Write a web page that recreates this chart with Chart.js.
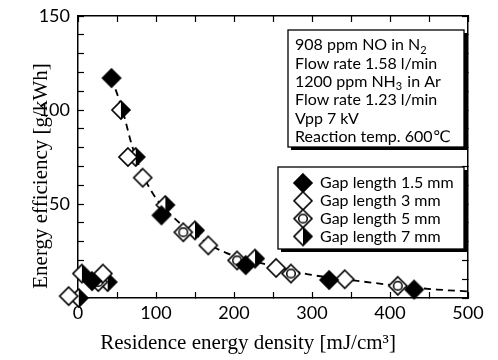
<!DOCTYPE html>
<html lang="en">
<head>
    <meta charset="UTF-8">
    <title>Energy efficiency vs residence energy density</title>
    <style>
        body { margin: 0; background: #fff; }
        canvas { display: block; }
    </style>
</head>
<body>
    <canvas id="myChart" width="498" height="360"></canvas>

    <script src="https://cdn.jsdelivr.net/npm/chart.js"></script>
    <script>
    // values
    const seriesNames = ['Gap length 1.5 mm', 'Gap length 3 mm', 'Gap length 5 mm', 'Gap length 7 mm'];

    const gap15X = [18, 43, 107, 215, 322, 431];
    const gap15Y = [9, 117, 44, 17.5, 9.6, 4.5];
    // last point sits just left of the axis in the figure
    const gap3X = [32, 64, 83, 167, 254, 342, -12];
    const gap3Y = [13, 75, 64, 28, 16, 10, 1];
    const gap5X = [26, 135, 204, 273, 410];
    const gap5Y = [8.5, 35, 20, 13, 6.5];
    const gap7X = [1, 5, 38, 55, 74, 112, 150, 227];
    const gap7Y = [0, 13, 8.5, 100, 75, 49.5, 36, 21];

    // dashed guide curve
    const fitX = [43, 57, 70, 85, 100, 115, 130, 150, 170, 190, 210, 230, 260, 290, 320, 350, 380, 420, 460, 500];
    const fitY = [117, 100, 80, 64, 53, 46, 40, 34, 28, 24, 21, 19, 16, 13, 11, 9.5, 8, 6, 4.5, 3.5];

    const xTitle = 'Residence energy density [mJ/cm\u00b3]';
    const yTitle = 'Energy efficiency [g/kWh]';

    const infoLines = [
        ['908 ppm NO in N', '2'],
        ['Flow rate 1.58 l/min', ''],
        ['1200 ppm NH', '3', ' in Ar'],
        ['Flow rate 1.23 l/min', ''],
        ['Vpp 7 kV', ''],
        ['Reaction temp. 600\u2103', '']
    ];

    const toPts = (xs, ys) => xs.map((x, i) => ({x: x, y: ys[i]}));

    function makeMarker(kind) {
        const c = document.createElement('canvas');
        c.width = 22; c.height = 22;
        const g = c.getContext('2d');
        const m = 11, r = 9;
        const diamond = () => {
            g.beginPath();
            g.moveTo(m, m - r); g.lineTo(m + r, m); g.lineTo(m, m + r); g.lineTo(m - r, m);
            g.closePath();
        };
        diamond();
        g.fillStyle = kind === 'filled' ? '#000' : '#fff';
        g.fill();
        if (kind === 'half') {
            g.beginPath();
            g.moveTo(m, m - r); g.lineTo(m + r, m); g.lineTo(m, m + r);
            g.closePath();
            g.fillStyle = '#000';
            g.fill();
        }
        if (kind === 'circle') {
            g.beginPath();
            g.arc(m, m, 4.3, 0, Math.PI * 2);
            g.lineWidth = 1.5;
            g.stroke();
        }
        g.lineWidth = 1.6;
        g.strokeStyle = '#000';
        diamond();
        g.stroke();
        return c;
    }

    const markers = [makeMarker('filled'), makeMarker('open'), makeMarker('circle'), makeMarker('half')];

    const sansFam = 'Lato, "DejaVu Sans", sans-serif';
    const tickFont = {family: sansFam, size: 18};
    const titleCss = '21px "Liberation Serif", serif';

    const boxesPlugin = {
        id: 'boxes',
        afterDraw(chart) {
            const ctx = chart.ctx;
            const a = chart.chartArea;
            ctx.save();
            ctx.fillStyle = '#000';

            // axis titles
            ctx.font = titleCss;
            ctx.textAlign = 'center';
            ctx.textBaseline = 'middle';
            ctx.fillText(xTitle, a.left + 170, a.bottom + 45);
            ctx.save();
            ctx.translate(a.left - 37, a.bottom - 122);
            ctx.rotate(-Math.PI / 2);
            ctx.fillText(yTitle, 0, 0);
            ctx.restore();

            const box = (x1, y1, x2, y2) => {
                ctx.fillStyle = '#000';
                ctx.fillRect(x1 + 3, y1 + 3, x2 - x1, y2 - y1);
                ctx.fillStyle = '#fff';
                ctx.fillRect(x1, y1, x2 - x1, y2 - y1);
                ctx.lineWidth = 1.3;
                ctx.strokeStyle = '#000';
                ctx.strokeRect(x1, y1, x2 - x1, y2 - y1);
            };

            // info box
            const ix = a.right - 180, iy = a.top + 14;
            box(ix, iy, a.right - 4, iy + 117);
            ctx.fillStyle = '#000';
            ctx.textAlign = 'left';
            infoLines.forEach((parts, i) => {
                const y = iy + 15 + i * 18.4;
                let x = ix + 7;
                parts.forEach((p, j) => {
                    if (!p) return;
                    const sub = j === 1;
                    ctx.font = (sub ? 11 : 16) + 'px ' + sansFam;
                    ctx.fillText(p, x, sub ? y + 5 : y);
                    x += ctx.measureText(p).width + (sub ? 1 : 0);
                });
            });

            // legend box
            const lx = a.right - 190, ly = a.top + 151;
            box(lx, ly, a.right - 4, ly + 82);
            ctx.font = '16px ' + sansFam;
            seriesNames.forEach((name, i) => {
                const y = ly + 16 + i * 17.8;
                ctx.drawImage(markers[i], lx + 25 - 11, y - 11);
                ctx.fillStyle = '#000';
                ctx.fillText(name, lx + 42, y);
            });
            ctx.restore();
        }
    };

    const ctx = document.getElementById('myChart').getContext('2d');
    const dotSet = (i, xs, ys) => ({
        label: seriesNames[i],
        data: toPts(xs, ys),
        pointStyle: markers[i],
        pointRadius: 9,
        showLine: false,
        clip: false,
        order: 1
    });

    const gridOpts = {drawOnChartArea: false, drawTicks: true, tickLength: -6, color: '#000', tickWidth: 1.2};
    const borderOpts = {color: '#000', width: 1.5};
    // fix the box sizes so the plot area sits where it does in the figure
    const fixSize = (w, h) => s => {
        if (w !== null) s.width = w;
        if (h !== null) s.height = h;
        s.paddingTop = 0; s.paddingBottom = 0; s.paddingLeft = 0; s.paddingRight = 0;
    };

    window.myChart = new Chart(ctx, {
        type: 'scatter',
        data: {
            datasets: [
                dotSet(0, gap15X, gap15Y),
                dotSet(1, gap3X, gap3Y),
                dotSet(2, gap5X, gap5Y),
                dotSet(3, gap7X, gap7Y),
                {
                    label: 'fit',
                    data: toPts(fitX, fitY),
                    showLine: true,
                    borderColor: '#000',
                    borderWidth: 1.8,
                    borderDash: [7, 5],
                    pointRadius: 0,
                    tension: 0.4,
                    cubicInterpolationMode: 'monotone',
                    order: 10
                }
            ]
        },
        options: {
            responsive: false,
            animation: false,
            layout: {padding: 0},
            plugins: {legend: {display: false}, tooltip: {enabled: false}},
            scales: {
                x: {
                    type: 'linear', position: 'bottom', min: 0, max: 500,
                    ticks: {stepSize: 50, color: '#000', font: tickFont, padding: 10, maxRotation: 0, autoSkip: false,
                        callback: v => v % 100 === 0 ? v : ''},
                    grid: gridOpts, border: borderOpts,
                    afterFit: fixSize(null, 62)
                },
                x2: {
                    type: 'linear', position: 'top', min: 0, max: 500,
                    ticks: {stepSize: 50, display: false},
                    grid: gridOpts, border: borderOpts,
                    afterFit: fixSize(null, 16)
                },
                y: {
                    type: 'linear', position: 'left', min: 0, max: 150,
                    ticks: {stepSize: 10, color: '#000', font: tickFont, padding: 14, autoSkip: false,
                        callback: v => (v % 50 === 0 && v !== 0) ? v : ''},
                    grid: gridOpts, border: borderOpts,
                    afterFit: fixSize(78, null)
                },
                y2: {
                    type: 'linear', position: 'right', min: 0, max: 150,
                    ticks: {stepSize: 10, display: false},
                    grid: gridOpts, border: borderOpts,
                    afterFit: fixSize(30, null)
                }
            }
        },
        plugins: [boxesPlugin]
    });
    </script>
</body>
</html>
